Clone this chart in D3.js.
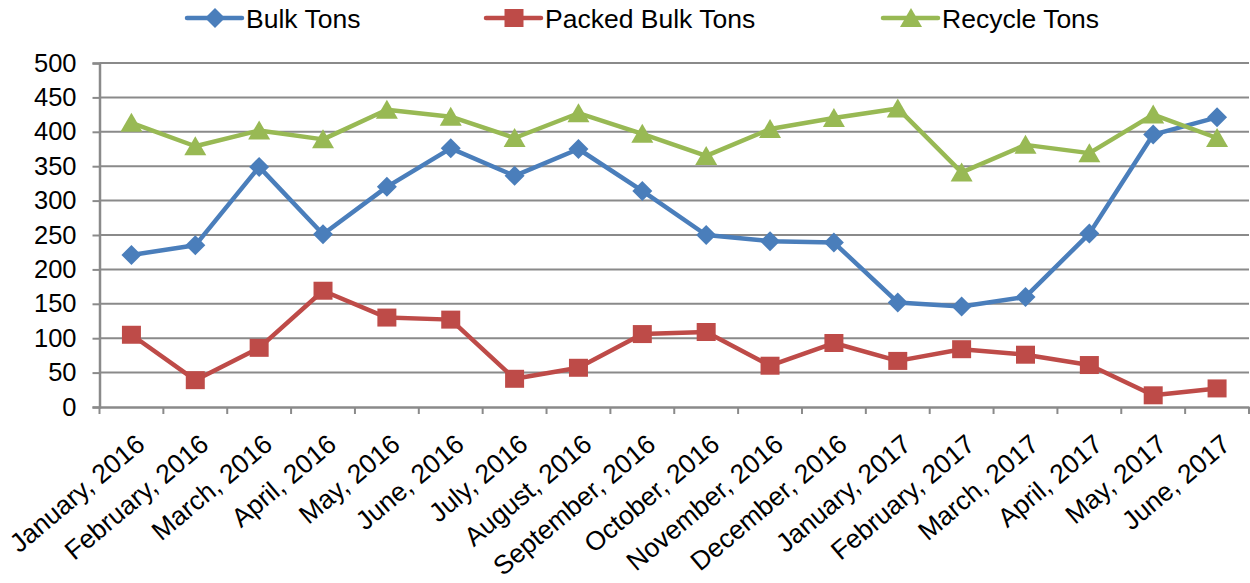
<!DOCTYPE html>
<html><head><meta charset="utf-8">
<script src="https://cdn.jsdelivr.net/npm/d3@7/dist/d3.min.js"></script>
<style>body{margin:0;background:#fff}svg{display:block;font-family:"Liberation Sans",Arial,sans-serif}</style>
</head><body><svg id="c" width="1250" height="583"></svg>
<script>
const categories = ["January, 2016","February, 2016","March, 2016","April, 2016","May, 2016","June, 2016","July, 2016","August, 2016","September, 2016","October, 2016","November, 2016","December, 2016","January, 2017","February, 2017","March, 2017","April, 2017","May, 2017","June, 2017"];
const bulkTons = [221,235,349,251,320,376,336,375,314,250,241,239,152,146,160,252,396,421];
const packedBulkTons = [105,39,86,169,130,127,41,57,106,109,60,93,67,84,76,61,17,27];
const recycleTons = [413,379,402,389,432,422,391,427,397,365,404,420,434,341,381,369,425,391];
const yTicks = [0,50,100,150,200,250,300,350,400,450,500];
const seriesNames = ["Bulk Tons","Packed Bulk Tons","Recycle Tons"];
const colors = ["#4A7EBB","#BE4B48","#98B954"];

const svg = d3.select("#c");
const L=99.5, R=1249, T=63, B=407;
const x = d3.scaleBand().domain(categories).range([L,R]);
const y = d3.scaleLinear().domain([0,500]).range([B,T]);

// gridlines
svg.append("g").selectAll("line").data(yTicks.filter(d=>d>0)).join("line")
  .attr("x1",L).attr("x2",R).attr("y1",d=>y(d)).attr("y2",d=>y(d))
  .attr("stroke","#8a8a8a").attr("stroke-width",2);

// y axis
const ya = svg.append("g").attr("transform",`translate(${L},0)`)
  .call(d3.axisLeft(y).tickValues(yTicks).tickSize(7).tickPadding(16));
ya.select(".domain").attr("stroke","#8a8a8a").attr("stroke-width",2.5);
ya.selectAll(".tick line").attr("stroke","#8a8a8a").attr("stroke-width",2);
ya.selectAll("text").attr("font-size",25.5).attr("fill","#000").attr("font-family","Liberation Sans, Arial, sans-serif");

// x axis
const xa = svg.append("g").attr("transform",`translate(0,${B})`)
  .call(d3.axisBottom(x).tickSize(0).tickFormat(""));
xa.select(".domain").attr("stroke","#8a8a8a").attr("stroke-width",2.5);
const edges = categories.map(c=>x(c)).concat([R]);
xa.selectAll("line.edge").data(edges).join("line").attr("class","edge")
  .attr("x1",d=>d).attr("x2",d=>d).attr("y1",0).attr("y2",7)
  .attr("stroke","#8a8a8a").attr("stroke-width",2);
svg.append("g").selectAll("text").data(categories).join("text")
  .attr("transform",d=>`translate(${x(d)+x.bandwidth()/2+15},${B+40}) rotate(-40)`)
  .attr("text-anchor","end")
  .attr("font-size",26.5).attr("fill","#000").text(d=>d);

const data = [bulkTons, packedBulkTons, recycleTons];
const cx = i => x(categories[i]) + x.bandwidth()/2;
const line = d3.line().x((d,i)=>cx(i)).y(d=>y(d));
const markers = [
  "M0,-10L10,0L0,10L-10,0Z",
  "M-9.5,-9L9.5,-9L9.5,9L-9.5,9Z",
  "M0,-10L11,9L-11,9Z"
];

data.forEach((vals,s)=>{
  svg.append("path").datum(vals).attr("d",line).attr("fill","none")
    .attr("stroke",colors[s]).attr("stroke-width",4.5).attr("stroke-linejoin","round");
});
data.forEach((vals,s)=>{
  svg.append("g").selectAll("path").data(vals).join("path")
    .attr("transform",(d,i)=>`translate(${cx(i)},${y(d)})`)
    .attr("d",markers[s]).attr("fill",colors[s]);
});

// legend
const legX = [187, 486, 883];
seriesNames.forEach((n,s)=>{
  const g = svg.append("g").attr("transform",`translate(${legX[s]},18)`);
  g.append("line").attr("x1",0).attr("x2",55).attr("stroke",colors[s]).attr("stroke-width",4.5).attr("stroke-linecap","round");
  g.append("path").attr("transform","translate(28,0)").attr("d",markers[s]).attr("fill",colors[s]);
  g.append("text").attr("x",59).attr("dy","0.36em").attr("font-size",26.5).attr("fill","#000").text(n);
});
</script></body></html>
